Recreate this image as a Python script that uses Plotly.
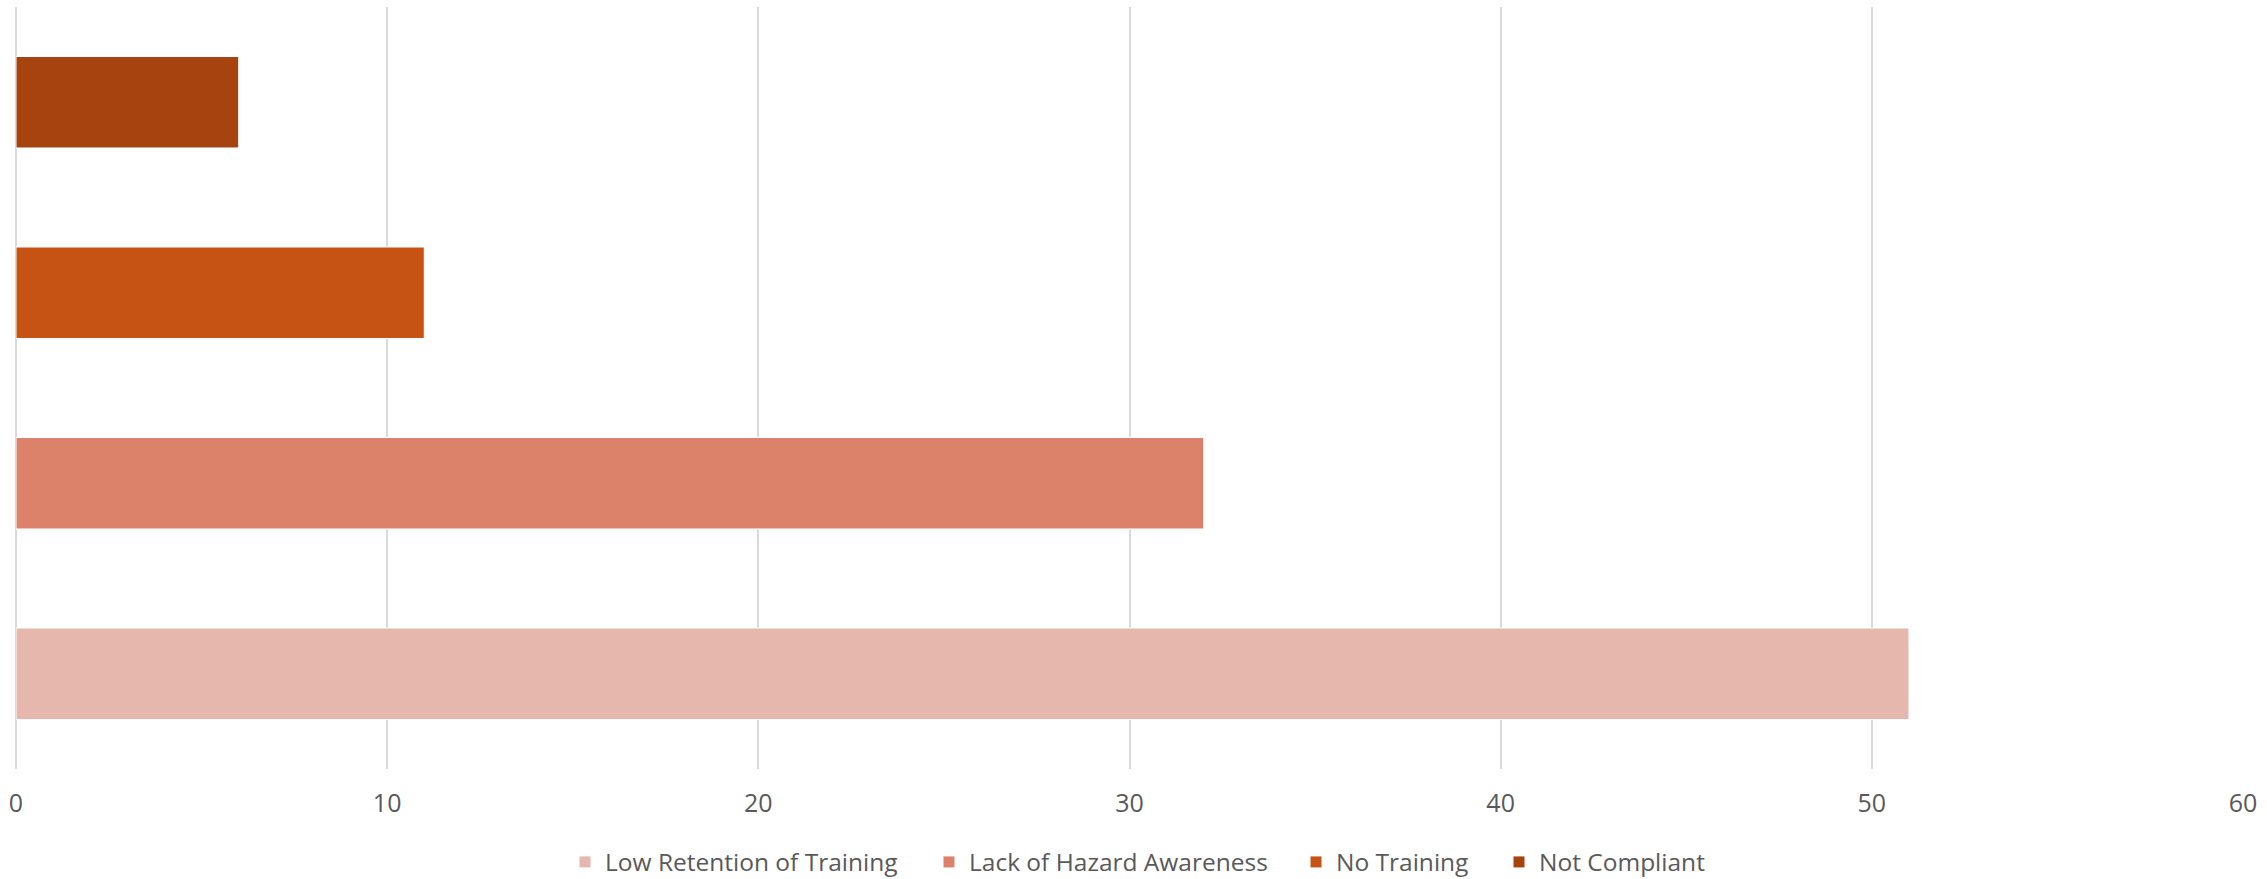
import plotly.graph_objects as go

series_names = ["Low Retention of Training", "Lack of Hazard Awareness", "No Training", "Not Compliant"]
series_values = [51, 32, 11, 6]
series_colors = ["#E6B7AD", "#DC826B", "#C65214", "#A6430F"]
x_ticks = [0, 10, 20, 30, 40, 50, 60]

# layout: legend entry left positions (px, page coords)
W, H = 2267, 879
legend_left_px = [565, 929, 1296, 1499]
legend_ids = ["legend", "legend2", "legend3", "legend4"]

fig = go.Figure()
for name, val, col, lid in zip(series_names, series_values, series_colors, legend_ids):
    fig.add_trace(go.Bar(
        y=[name], x=[val], name=name, orientation="h", legend=lid,
        marker=dict(color=col, line=dict(color="white", width=1)),
    ))

legend_layout = {}
for lid, lx in zip(legend_ids, legend_left_px):
    legend_layout[lid] = dict(
        orientation="h", xref="container", x=lx / W, xanchor="left",
        yref="container", y=1 - 862 / H, yanchor="middle",
        font=dict(size=24.5, color="#595959"), itemwidth=30,
        bgcolor="rgba(0,0,0,0)",
    )

fig.update_layout(
    width=W, height=H,
    margin=dict(l=16, r=24, t=7, b=110, autoexpand=False),
    plot_bgcolor="white", paper_bgcolor="white",
    bargap=0.52,
    font=dict(family="Open Sans", size=25, color="#595959"),
    showlegend=True,
    **legend_layout,
)
fig.update_xaxes(
    range=[0, 60], tickvals=x_ticks, showgrid=True, gridcolor="#D9D9D9", gridwidth=1.5,
    zeroline=True, zerolinecolor="#D9D9D9", zerolinewidth=1.5, showline=False,
    ticks="", ticklabelstandoff=17, tickfont=dict(size=25, color="#595959"),
    automargin=False,
)
fig.update_yaxes(showticklabels=False, showgrid=False, zeroline=False, showline=False,
                 categoryorder="array", categoryarray=series_names, automargin=False)

fig.write_html("out.html", post_script="document.body.style.margin='0';",
               config={"displayModeBar": False})
